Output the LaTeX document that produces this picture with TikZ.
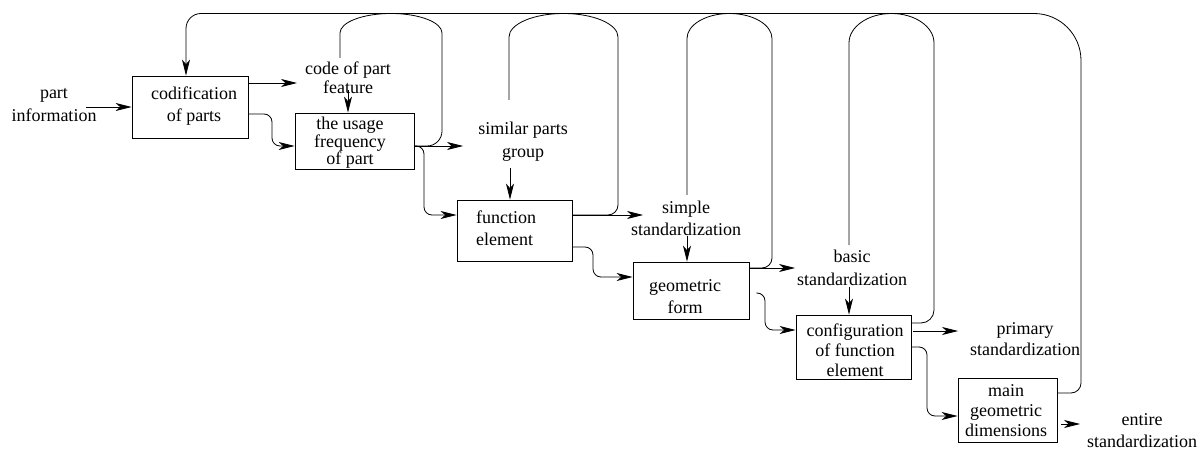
\documentclass[tikz,border=0pt]{standalone}
\usepackage{fontspec}
\setmainfont{Liberation Serif}
\usetikzlibrary{arrows.meta}
\begin{document}
\begin{tikzpicture}[x=1pt,y=1pt]
\tikzset{
 box/.style={draw, line width=0.8pt, inner sep=0pt},
 txt/.style={font=\fontsize{18}{22}\selectfont, align=center, inner sep=0pt},
 ln/.style={line width=0.8pt},
 arr/.style={ln, -{Stealth[length=16pt,width=8pt,inset=4.5pt]}},
}
\useasboundingbox (0,0) rectangle (1204,-449);
% boxes
\node[box, minimum width=116pt, minimum height=62pt] (cod) at (190,-107) {};
\node[box, minimum width=119pt, minimum height=56pt] (usage) at (354.5,-141) {};
\node[box, minimum width=115pt, minimum height=61pt] (fe) at (514.5,-230.5) {};
\node[box, minimum width=116pt, minimum height=57pt] (geo) at (691,-290.5) {};
\node[box, minimum width=115pt, minimum height=64pt] (conf) at (853.5,-347) {};
\node[box, minimum width=99pt, minimum height=64pt] (main) at (1007.5,-410) {};
% box texts
\node[txt] (codt) at (194,-106) {codification\\of parts};
\node[txt, font=\fontsize{18}{16}\selectfont] (usaget) at (350,-143) {the usage\\frequency\\of part};
\node[txt, align=left, anchor=west] (fet) at (476,-228) {function\\element};
\node[txt] (geot) at (685,-297) {geometric\\form};
\node[txt, font=\fontsize{18}{20}\selectfont] (conft) at (855,-350) {configuration\\of function\\element};
\node[txt, font=\fontsize{18}{20}\selectfont] (maint) at (1006,-411) {main\\geometric\\dimensions};
% free labels
\node[txt, font=\fontsize{18}{23}\selectfont] (pinfo) at (54,-105.5) {part\\information};
\node[txt, font=\fontsize{18}{19}\selectfont] (code) at (348,-77.5) {code of part\\feature};
\node[txt, font=\fontsize{18}{23}\selectfont] (similar) at (523,-141.5) {similar parts\\group};
\node[txt] (simple) at (686,-218) {simple\\standardization};
\node[txt, font=\fontsize{18}{23}\selectfont] (basic) at (852,-267.5) {basic\\standardization};
\node[txt, font=\fontsize{18}{21}\selectfont] (primary) at (1025,-339.5) {primary\\standardization};
\node[txt] (entire) at (1142,-430.5) {entire\\standardization};
% coordinates
\coordinate (piout) at (86,-107);
\coordinate (codein) at (297,-83);
\coordinate (codeout) at (348,-90);
\coordinate (codetop) at (340,-58);
\coordinate (simin) at (463,-146);
\coordinate (simout) at (510,-168);
\coordinate (simtop) at (509,-100);
\coordinate (spin) at (643,-215);
\coordinate (spout) at (687,-236);
\coordinate (sptop) at (687,-195);
\coordinate (bsin) at (795,-268);
\coordinate (bsout) at (849,-287);
\coordinate (bstop) at (849,-245);
\coordinate (prin) at (958,-331);
\coordinate (enin) at (1080,-424);
% straight arrows
\draw[arr] (piout) -- (cod.west |- piout);
\draw[arr] (cod.east |- codein) -- (codein);
\draw[arr] (codeout) -- (usage.north -| codeout);
\draw[arr] (usage.east |- simin) -- (simin);
\draw[arr] (simout) -- (fe.north -| simout);
\draw[arr] (fe.east |- spin) -- (spin);
\draw[arr] (spout) -- (geo.north -| spout);
\draw[arr] (geo.east |- bsin) -- (bsin);
\draw[arr] (bsout) -- (conf.north -| bsout);
\draw[arr] ([xshift=2pt]conf.east |- prin) -- (prin);
\draw[arr] ([xshift=4pt]main.east |- enin) -- (enin);
% stepped arrows
\draw[arr] (cod.east |- 0,-114) -- (264,-114) arc[start angle=90,end angle=0,radius=8] -- (272,-138) arc[start angle=180,end angle=270,radius=8] -- (usage.west |- 0,-146);
\draw[arr] (usage.east |- 0,-146) -- (416,-146) arc[start angle=90,end angle=0,radius=8] -- (424,-207) arc[start angle=180,end angle=270,radius=8] -- (fe.west |- 0,-215);
\draw[arr] (fe.east |- 0,-247) -- (585,-247) arc[start angle=90,end angle=0,radius=8] -- (593,-269) arc[start angle=180,end angle=270,radius=8] -- (geo.west |- 0,-277);
\draw[arr] ([xshift=7pt]geo.east |- 0,-293) -- (757,-293) arc[start angle=90,end angle=0,radius=8] -- (765,-322) arc[start angle=180,end angle=270,radius=8] -- (conf.west |- 0,-330);
\draw[arr] (conf.east |- 0,-347) -- (919,-347) arc[start angle=90,end angle=0,radius=8] -- (927,-408) arc[start angle=180,end angle=270,radius=8] -- (main.west |- 0,-416);
% loops
\draw[ln] (usage.east |- 0,-146) -- (427,-146) arc[start angle=-90,end angle=0,radius=15] -- (442,-33) arc[start angle=0,end angle=180,x radius=51,y radius=19.5] -- (codetop);
\draw[ln] (fe.east |- 0,-215) -- (608,-215) arc[start angle=-90,end angle=0,radius=10] -- (618,-37) arc[start angle=0,end angle=180,x radius=54.5,y radius=23.5] -- (simtop);
\draw[ln] (geo.east |- 0,-268) -- (762,-268) arc[start angle=-90,end angle=0,radius=10] -- (772,-38.5) arc[start angle=0,end angle=180,x radius=42.5,y radius=25] -- (sptop);
\draw[ln] (conf.east |- 0,-323) -- (921,-323) arc[start angle=-90,end angle=0,radius=13] -- (934,-43) arc[start angle=0,end angle=180,x radius=42.5,y radius=29.5] -- (bstop);
\draw[arr] (main.east |- 0,-393) -- (1071,-393) arc[start angle=-90,end angle=0,radius=10] -- (1081,-60.5) arc[start angle=0,end angle=90,radius=47] -- (201,-13.5) arc[start angle=90,end angle=180,radius=15] -- (cod.north -| 186,0);
\end{tikzpicture}
\end{document}
